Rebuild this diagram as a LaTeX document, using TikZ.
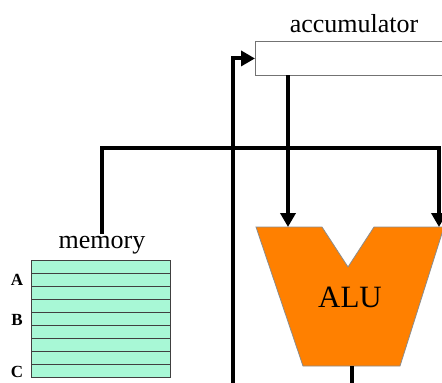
\documentclass[tikz,border=0pt]{standalone}
\usepackage{fontspec}
\setmainfont{Liberation Serif}
\usepackage{tikz}
\usetikzlibrary{positioning, arrows.meta}
\definecolor{memgreen}{HTML}{A8F8D6}
\definecolor{aluorange}{HTML}{FF8000}

\begin{document}
\begin{tikzpicture}[x=1pt, y=-1pt]
    % stili per fili e celle
    \tikzset{
        wire/.style={line width=4pt},
        feed/.style={wire, -{Triangle[length=14pt, width=15pt]}},
        cell/.style={draw=black!75, fill=memgreen, line width=0.9pt},
        caption/.style={font=\fontsize{26}{26}\selectfont, inner sep=2pt},
        tag/.style={font=\bfseries\fontsize{17}{17}\selectfont}
    }
    \useasboundingbox (0,0) rectangle (442,383);

    % --- accumulatore ---
    \node[draw=black!55, line width=0.9pt, fill=white, anchor=north west,
          minimum width=200pt, minimum height=34pt, inner sep=0pt] (acc) at (255,41) {};
    \node[caption, anchor=base] (acclbl) at (354,32) {accumulator};

    % --- ALU ---
    \draw[draw=black!45, line width=0.8pt, fill=aluorange]
        (256,227) -- (322,227) -- (348,267) -- (374,227) -- (444,227)
        -- (400,366) -- (303,366) -- cycle;
    \node[font=\fontsize{31}{31}\selectfont, anchor=base] (alu) at (350,307) {ALU};
    \coordinate (aluA) at (288,227);
    \coordinate (aluB) at (439,227);
    \coordinate (aluout) at (352,366);
    \coordinate (aluend) at (352,383);

    % --- memoria ---
    \foreach \i in {0,...,8} {
        \draw[cell] (31,{260+\i*13.1}) rectangle +(139,13.1);
    }
    \node[caption, anchor=base] (memlbl) at (102,248) {memory};
    \node[tag] (cellA) at (17,280) {A};
    \node[tag] (cellB) at (17,320) {B};
    \node[tag] (cellC) at (17,372) {C};

    % --- collegamenti ---
    \coordinate (accout) at (288,75);
    \coordinate (busR) at (439,148);
    \coordinate (loopbot) at (233,383);
    \draw[feed] (accout) -- (aluA);
    \draw[feed] (memlbl.north) |- (busR) -- (aluB);
    \draw[feed] (loopbot) |- (acc.west);
    \draw[wire] (aluout) -- (aluend);
\end{tikzpicture}
\end{document}
